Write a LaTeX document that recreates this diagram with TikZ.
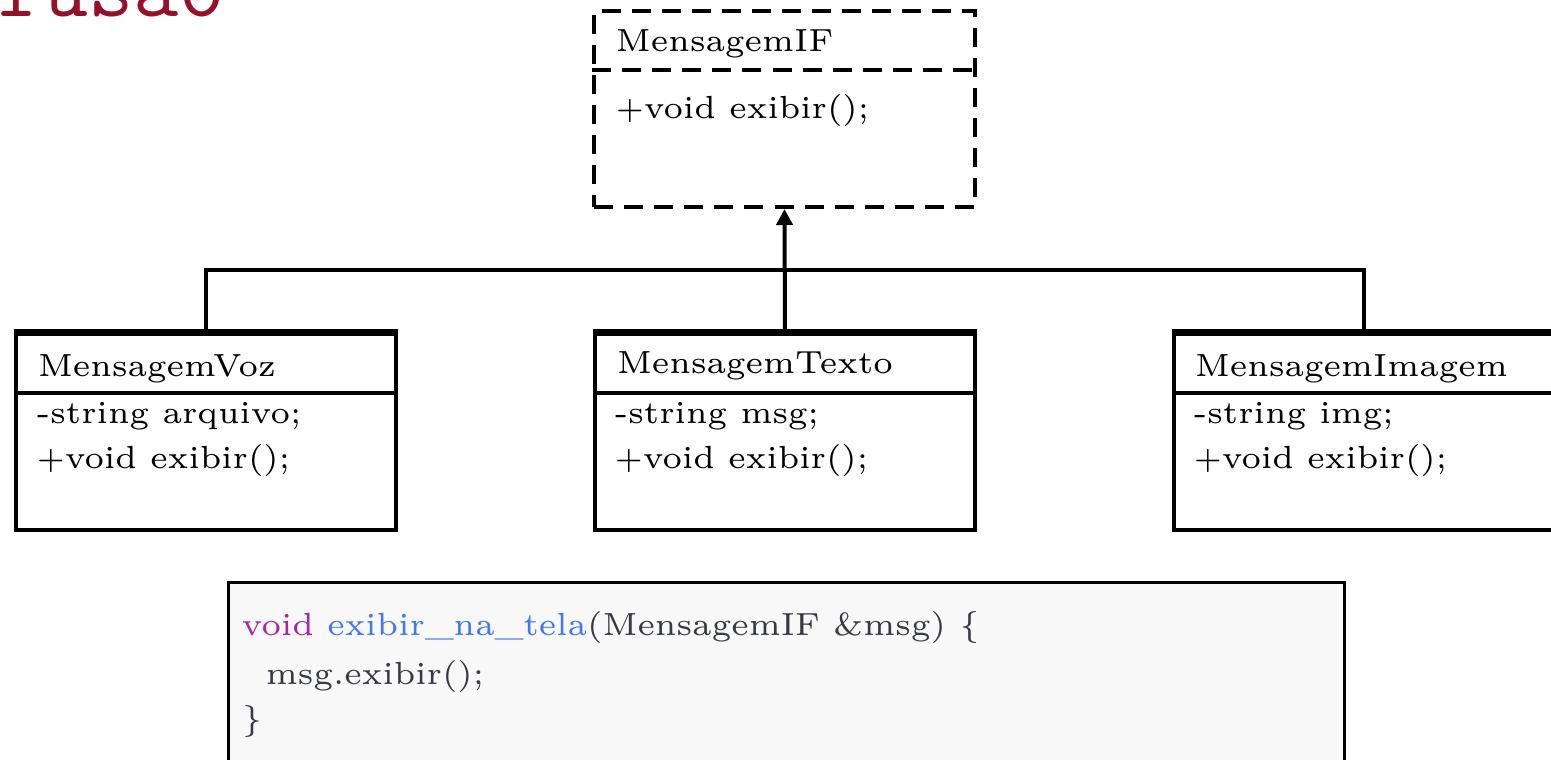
\documentclass[tikz,border=0pt]{standalone}
\usetikzlibrary{arrows.meta}
\definecolor{titlered}{RGB}{150,16,40}
\definecolor{codebg}{RGB}{248,248,248}
\definecolor{codefg}{RGB}{56,58,66}
\definecolor{kwpurple}{RGB}{166,38,164}
\definecolor{fnblue}{RGB}{64,120,242}
\begin{document}
\begin{tikzpicture}[x=0.2pt,y=-0.2pt,
  cls/.style={draw,line width=0.8pt,minimum width=76pt,minimum height=39.2pt,inner sep=0pt,fill=white},
  ifdash/.style={dashed,dash pattern=on 3.8pt off 2.2pt},
  iface/.style={cls,ifdash},
  divider/.style={line width=0.7pt},
  topedge/.style={line width=1.2pt},
  txt/.style={anchor=base west,inner sep=0pt,font=\fontsize{6.4}{7.7}\selectfont},
  code/.style={txt,text=codefg},
  link/.style={line width=0.7pt},
  title/.style={anchor=base west,inner sep=0pt,text=titlered,font=\fontsize{17.6}{20}\selectfont\ttfamily}
]
\useasboundingbox (0,0) rectangle (1551,760);
\clip (0,0) rectangle (1551,760);

% slide title, only its lower part is in view
\node[title] (ttl) at (-3,17) {fusão};

% interface
\node[iface] (if) at (784.5,109) {};
\draw[divider,ifdash] (if.west |- 0,70) -- (if.east |- 0,70);
\node[txt] (ifname) at (615,52) {MensagemIF};
\node[txt] (ifop) at (615,118) {$+$void exibir();};

% concrete classes
\node[cls] (voz) at (206,432) {};
\node[cls] (texto) at (785,432) {};
\node[cls] (imagem) at (1364,432) {};
\foreach \c in {voz,texto,imagem}{
  \draw[topedge] (\c.north west) -- (\c.north east);
  \draw[divider] (\c.west |- 0,393) -- (\c.east |- 0,393);
}
\node[txt] (vozname) at (37,376) {MensagemVoz};
\node[txt] (vozattr) at (36,423) {-string arquivo;};
\node[txt] (vozop) at (36,469) {$+$void exibir();};

\node[txt] (textoname) at (616,374) {MensagemTexto};
\node[txt] (textoattr) at (614,423) {-string msg;};
\node[txt] (textoop) at (614,468) {$+$void exibir();};

\node[txt] (imagemname) at (1194,376) {MensagemImagem};
\node[txt] (imagemattr) at (1193,423) {-string img;};
\node[txt] (imagemop) at (1193,469) {$+$void exibir();};

% realisation links
\coordinate (bus) at (785,270);
\draw[link] (voz.north) |- (bus) -| (imagem.north);
\draw[link,line width=0.8pt,-{Triangle[length=3.2pt,width=3.2pt]}] (texto.north) -- (if.south);

% code listing
\node[draw,line width=0.6pt,fill=codebg,anchor=north west,minimum width=223.2pt,minimum height=40pt,inner sep=0pt] (codebox) at (227,581) {};
\node[code] (l1) at (241,636) {\textcolor{kwpurple}{void} \textcolor{fnblue}{exibir\_na\_tela}(MensagemIF \&msg) \{};
\node[code] (l2) at (265,684) {msg.exibir();};
\node[code] (l3) at (241,730) {\}};
\end{tikzpicture}
\end{document}
